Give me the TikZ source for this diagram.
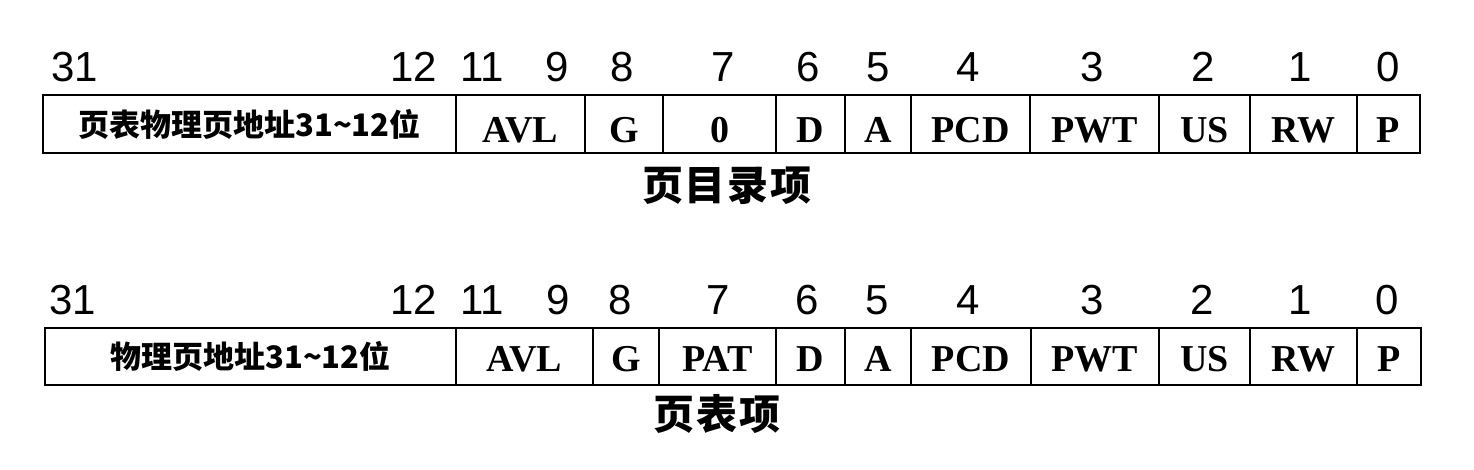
\documentclass[tikz,border=0pt]{standalone}
\usepackage{fontspec}
\setmainfont{Liberation Serif}
\newfontfamily\digitfont{Liberation Sans}
\newfontfamily\cjkfont{Noto Sans CJK SC}
\begin{document}
\begin{tikzpicture}[x=1pt,y=1pt,
  cell/.style={draw, line width=2.2pt, inner sep=0pt, anchor=center,
    font=\fontsize{38}{40}\selectfont\bfseries},
  rowa/.style={cell, minimum height=58pt, text height=44pt, text depth=6pt},
  rowb/.style={cell, minimum height=57pt, text height=40pt, text depth=9pt},
  cjkcell/.style={font=\cjkfont\bfseries\fontsize{31}{34}\selectfont, text height=, text depth=},
  bitnum/.style={anchor=base, inner sep=0pt, font=\digitfont\fontsize{42}{44}\selectfont},
  caption/.style={inner sep=0pt, font=\cjkfont\bfseries\fontsize{41}{44}\selectfont}]
\useasboundingbox (0,0) rectangle (1474,470);
% ---------- row 1: page directory entry ----------
\node[rowa, cjkcell, minimum width=413pt] (a1) at (249.5,346) {页表物理页地址31\textasciitilde12位};
\node[rowa, minimum width=129pt] (a2) at (520.5,346) {AVL};
\node[rowa, minimum width=78pt]  (a3) at (624,346) {G};
\node[rowa, minimum width=113pt] (a4) at (719.5,346) {0};
\node[rowa, minimum width=69pt]  (a5) at (810.5,346) {D};
\node[rowa, minimum width=66pt]  (a6) at (878,346) {A};
\node[rowa, minimum width=119pt] (a7) at (970.5,346) {PCD};
\node[rowa, minimum width=129pt] (a8) at (1094.5,346) {PWT};
\node[rowa, minimum width=91pt]  (a9) at (1204.5,346) {US};
\node[rowa, minimum width=107pt] (a10) at (1303.5,346) {RW};
\node[rowa, minimum width=63pt]  (a11) at (1388.5,346) {P};
% bit numbers row 1
\node[bitnum] (na31) at (75,388) {31};
\node[bitnum, anchor=base east] (na12) at (437,388) {12};
\node[bitnum] (na11) at (482,388) {11};
\node[bitnum] (na9) at (557,388) {9};
\node[bitnum] (na8) at (622,388) {8};
\node[bitnum] (na7) at (723,388) {7};
\node[bitnum] (na6) at (808,388) {6};
\node[bitnum] (na5) at (878,388) {5};
\node[bitnum] (na4) at (968,388) {4};
\node[bitnum] (na3) at (1092,388) {3};
\node[bitnum] (na2) at (1203,388) {2};
\node[bitnum] (na1) at (1300,388) {1};
\node[bitnum] (na0) at (1388,388) {0};
\node[caption] (capa) at (727,284) {页\hspace{2pt}目\hspace{2pt}录\hspace{2pt}项};
% ---------- row 2: page table entry ----------
\node[rowb, cjkcell, minimum width=411pt] (b1) at (250.5,113.5) {物理页地址31\textasciitilde12位};
\node[rowb, minimum width=137pt] (b2) at (524.5,113.5) {AVL};
\node[rowb, minimum width=66pt]  (b3) at (626,113.5) {G};
\node[rowb, minimum width=117pt] (b4) at (717.5,113.5) {PAT};
\node[rowb, minimum width=69pt]  (b5) at (810.5,113.5) {D};
\node[rowb, minimum width=66pt]  (b6) at (878,113.5) {A};
\node[rowb, minimum width=120pt] (b7) at (971,113.5) {PCD};
\node[rowb, minimum width=128pt] (b8) at (1095,113.5) {PWT};
\node[rowb, minimum width=91pt]  (b9) at (1204.5,113.5) {US};
\node[rowb, minimum width=107pt] (b10) at (1303.5,113.5) {RW};
\node[rowb, minimum width=64pt]  (b11) at (1389,113.5) {P};
% bit numbers row 2
\node[bitnum] (nb31) at (73,155) {31};
\node[bitnum, anchor=base east] (nb12) at (437,155) {12};
\node[bitnum] (nb11) at (482,155) {11};
\node[bitnum] (nb9) at (558,155) {9};
\node[bitnum] (nb8) at (620,155) {8};
\node[bitnum] (nb7) at (718,155) {7};
\node[bitnum] (nb6) at (807,155) {6};
\node[bitnum] (nb5) at (877,155) {5};
\node[bitnum] (nb4) at (968,155) {4};
\node[bitnum] (nb3) at (1092,155) {3};
\node[bitnum] (nb2) at (1202,155) {2};
\node[bitnum] (nb1) at (1300,155) {1};
\node[bitnum] (nb0) at (1387,155) {0};
\node[caption] (capb) at (717,56) {页\hspace{2pt}表\hspace{2pt}项};
\end{tikzpicture}
\end{document}
